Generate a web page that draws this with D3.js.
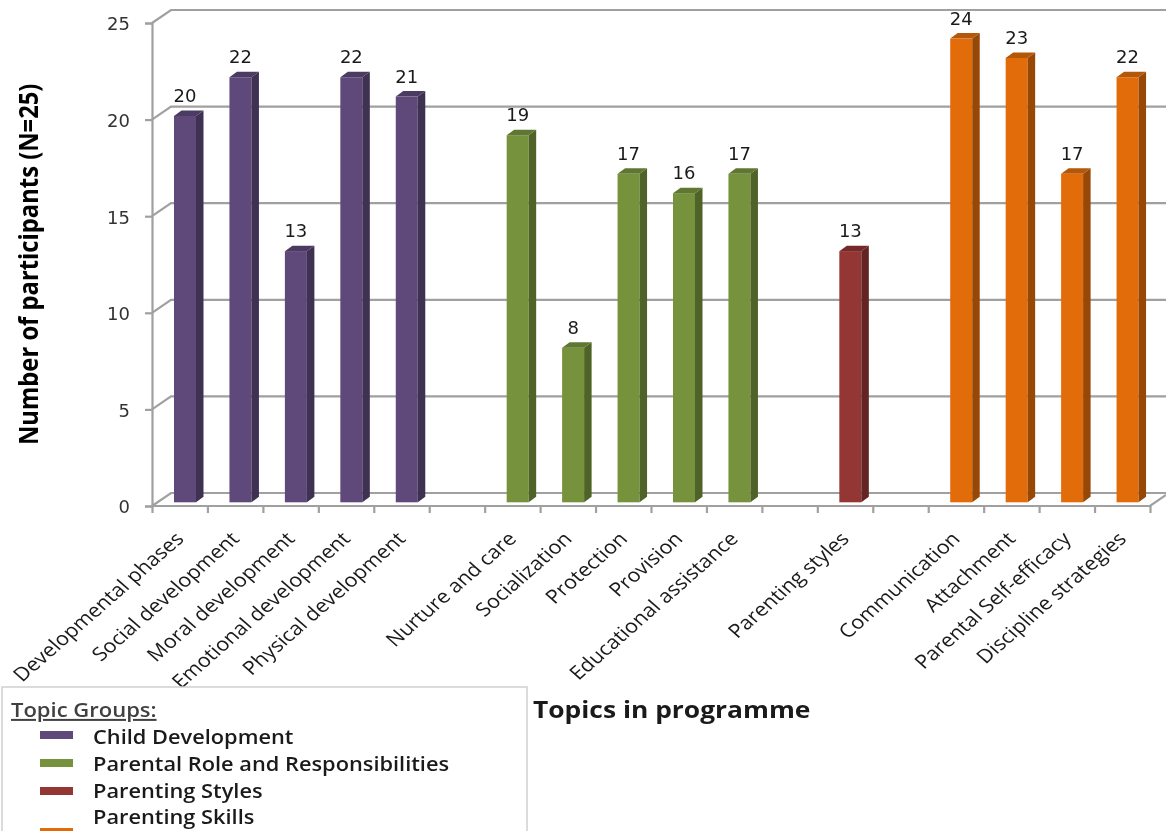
<!DOCTYPE html>
<html>
<head>
<meta charset="utf-8">
<script src="https://cdn.jsdelivr.net/npm/d3@7"></script>
<style>
  html, body { margin: 0; padding: 0; background: #fff; overflow: hidden; }
  svg { display: block; filter: blur(0.4px); }
  text { font-family: "Open Sans", sans-serif; fill: #1a1a1a; }
</style>
</head>
<body>
<svg id="chart" width="1166" height="831"></svg>
<script>
var categories = ["Developmental phases", "Social development", "Moral development", "Emotional development", "Physical development", "",
  "Nurture and care", "Socialization", "Protection", "Provision", "Educational assistance", "",
  "Parenting styles", "",
  "Communication", "Attachment", "Parental Self-efficacy", "Discipline strategies"];
var values = [20, 22, 13, 22, 21, null, 19, 8, 17, 16, 17, null, 13, null, 24, 23, 17, 22];
var groups = [0, 0, 0, 0, 0, null, 1, 1, 1, 1, 1, null, 2, null, 3, 3, 3, 3];
var groupNames = ["Child Development", "Parental Role and Responsibilities", "Parenting Styles", "Parenting Skills"];
var faceColors = ["#5f497a", "#76923c", "#943634", "#e36c0a"];
var sideColors = ["#3f3151", "#4f6228", "#632423", "#974806"];
var topColors = ["#4b3a61", "#5f7730", "#76292a", "#b55708"];
var yTicks = [0, 5, 10, 15, 20, 25];

var svg = d3.select("#chart");

// front plane of the 3d box, back wall is shifted by depth
var depthX = 19, depthY = 13;
var x = d3.scaleLinear().domain([0, categories.length]).range([152, 1150]);
var y = d3.scaleLinear().domain([0, 25]).range([506, 23]);

var grid = svg.append("g").attr("stroke", "#a0a0a0").attr("stroke-width", 2.2).attr("fill", "none");
yTicks.forEach(function (t) {
  grid.append("path").attr("d", "M" + x(0) + "," + y(t) + "L" + (x(0) + depthX) + "," + (y(t) - depthY) + "H1166");
});
// floor front edge and its right side
grid.append("path").attr("d", "M" + x(0) + "," + y(0) + "H" + x(18) + "L1166," + (y(0) - 11));

var yAxis = d3.axisLeft(y).tickValues(yTicks).tickSize(7).tickPadding(15);
var gy = svg.append("g").attr("transform", "translate(" + x(0) + ",0)").call(yAxis);
gy.selectAll("line, path").attr("stroke", "#a0a0a0").attr("stroke-width", 2.2);
gy.selectAll("text")
  .attr("dy", "0.38em")
  .style("font-family", "'DejaVu Sans'").style("font-size", "18px").style("fill", "#333");

var xAxis = d3.axisBottom(x).tickValues(d3.range(0, 19)).tickSize(7).tickFormat("");
var gx = svg.append("g").attr("transform", "translate(0," + y(0) + ")").call(xAxis);
gx.selectAll("line").attr("stroke", "#a0a0a0").attr("stroke-width", 2.2);
gx.select("path").remove();

// bars
var barW = 22, sideW = 7.5, sideH = 5.5, barOffX = 22, barOffY = 3.7;
var bars = svg.append("g").selectAll("g")
  .data(values.map(function (v, i) { return { v: v, i: i, g: groups[i] }; }).filter(function (d) { return d.v !== null; }))
  .enter().append("g");

bars.append("rect")
  .attr("x", function (d) { return x(d.i) + barOffX; })
  .attr("y", function (d) { return y(d.v) - barOffY; })
  .attr("width", barW)
  .attr("height", function (d) { return y(0) - y(d.v); })
  .attr("fill", function (d) { return faceColors[d.g]; });

bars.append("path")
  .attr("d", function (d) {
    var l = x(d.i) + barOffX + barW, t = y(d.v) - barOffY, b = y(0) - barOffY;
    return "M" + l + "," + t + "L" + (l + sideW) + "," + (t - sideH) + "V" + (b - sideH) + "L" + l + "," + b + "Z";
  })
  .attr("fill", function (d) { return sideColors[d.g]; });

bars.append("path")
  .attr("d", function (d) {
    var l = x(d.i) + barOffX, t = y(d.v) - barOffY;
    return "M" + l + "," + t + "L" + (l + sideW) + "," + (t - sideH) + "H" + (l + barW + sideW) + "L" + (l + barW) + "," + t + "Z";
  })
  .attr("fill", function (d) { return topColors[d.g]; });

bars.append("text")
  .attr("x", function (d) { return x(d.i) + barOffX + barW / 2; })
  .attr("y", function (d) { return y(d.v) - barOffY - 14; })
  .attr("text-anchor", "middle")
  .style("font-family", "'DejaVu Sans'").style("font-size", "18px")
  .text(function (d) { return d.v; });

// rotated category labels, picture is stretched sideways so they lean a bit flatter than 45
svg.append("g").selectAll("text")
  .data(categories.map(function (c, i) { return { c: c, i: i }; }).filter(function (d) { return d.c !== ""; }))
  .enter().append("text")
  .attr("transform", function (d) { return "translate(" + (x(d.i) + 33) + ",540) scale(1.14,1) rotate(-45)"; })
  .attr("text-anchor", "end")
  .style("font-size", "19px")
  .text(function (d) { return d.c; });

// axis titles
svg.append("text")
  .attr("transform", "translate(38,445) scale(1.1,1) rotate(-90)")
  .style("font-size", "23.8px").style("font-weight", "700").style("fill", "#000")
  .text("Number of participants (N=25)");

svg.append("text")
  .attr("transform", "translate(533,718) scale(1.1,1)")
  .style("font-size", "24px").style("font-weight", "700")
  .text("Topics in programme");

// legend, runs off the bottom of the picture
var legend = svg.append("g");
legend.append("rect")
  .attr("x", 2).attr("y", 687).attr("width", 525).attr("height", 170)
  .attr("fill", "#fff").attr("stroke", "#d0d0d0").attr("stroke-width", 1.5);
legend.append("text")
  .attr("transform", "translate(11,717) scale(1.1,1)")
  .style("font-size", "20px").style("font-weight", "600").style("text-decoration", "underline").style("fill", "#404040")
  .text("Topic Groups:");

var legendY = [744, 771, 798, 824];
var swatchY = [735, 763, 791, 832];
groupNames.forEach(function (name, i) {
  legend.append("rect")
    .attr("x", 40).attr("y", swatchY[i] - 4).attr("width", 33).attr("height", 8)
    .attr("fill", faceColors[i]);
  legend.append("text")
    .attr("transform", "translate(93," + legendY[i] + ") scale(1.09,1)")
    .style("font-size", "20px").style("font-weight", "600")
    .text(name);
});
</script>
</body>
</html>
